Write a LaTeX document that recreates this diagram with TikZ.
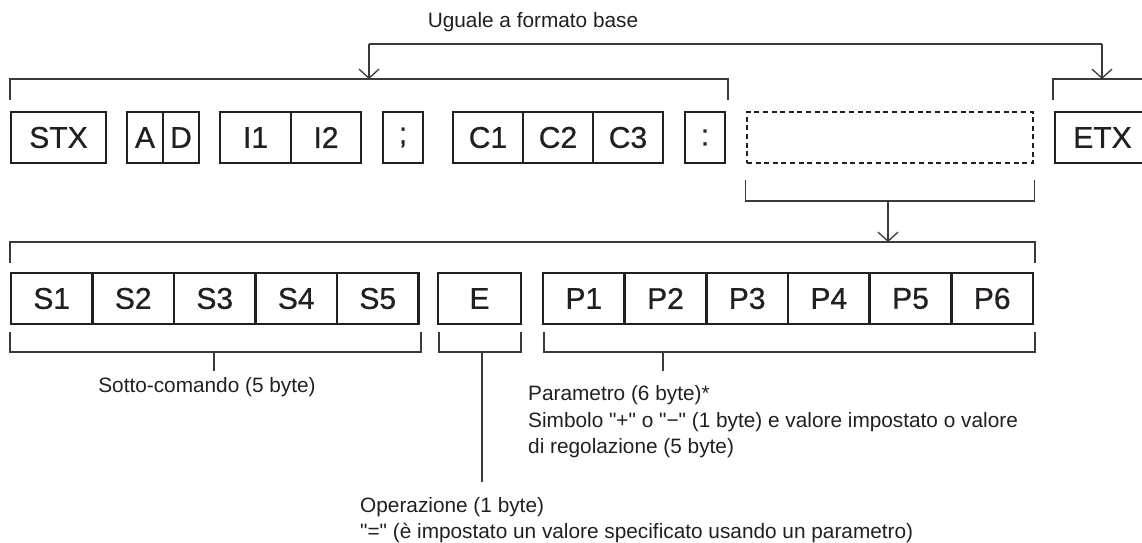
\documentclass[tikz,border=0pt]{standalone}
\usepackage{fontspec}
\setmainfont{Liberation Sans}[Ligatures=TeXOff]
\newfontfamily\cellfont{Liberation Sans}[FakeBold=0.7]
\usepackage{xcolor}
\usetikzlibrary{arrows.meta,positioning}
\definecolor{ink}{HTML}{231F20}
\definecolor{wire}{HTML}{3A3A3A}

\begin{document}
\begin{tikzpicture}[x=1pt, y=-1pt,
    cell/.style={rectangle, draw=ink, line width=2.6pt, minimum height=51pt, inner sep=0pt, text=ink, font=\cellfont\fontsize{30}{30}\selectfont},
    slot/.style={rectangle, draw=ink, line width=2.4pt, dash pattern=on 5pt off 3.6pt, minimum height=51pt, inner sep=0pt},
    brk/.style={draw=wire, line width=1.3pt},
    arr/.style={brk, -{Straight Barb[length=9pt, width=20pt, line width=1.3pt]}},
    note/.style={inner sep=0pt, align=left, text=ink, font=\fontsize{20.8}{26.5}\selectfont}]
    \clip (0,0) rectangle (1142,542);
    % Command frame
    \node[cell, minimum width=95pt] (stx) at (58.5,137.5) {STX};
    \node[cell, minimum width=36pt] (a) at (145,137.5) {A};
    \node[cell, minimum width=36pt] (d) at (181,137.5) {D};
    \node[cell, minimum width=71pt] (i1) at (255.5,137.5) {I1};
    \node[cell, minimum width=70pt] (i2) at (326,137.5) {I2};
    \node[cell, minimum width=40pt] (semi) at (403,137.5) {;};
    \foreach \k in {1,2,3}
        \node[cell, minimum width=70pt] (c\k) at ({418+70*\k},137.5) {C\k};
    \node[cell, minimum width=40pt] (colon) at (705,137.5) {:};
    \node[slot, minimum width=286pt] (data) at (890,137.5) {};
    \node[cell, minimum width=95pt] (etx) at (1102.5,137.5) {ETX};

    % Data field
    \foreach \k in {1,...,5}
        \node[cell, minimum width=81.5pt] (s\k) at ({81.5*\k-29.75},298.5) {S\k};
    \node[cell, minimum width=83pt] (e) at (479.5,298.5) {E};
    \foreach \k in {1,...,6}
        \node[cell, minimum width=81.67pt] (p\k) at ({81.67*\k+502.17},298.5) {P\k};

    % Same as basic format
    \node[note] (title) at (533,22) {Uguale a formato base};
    \coordinate (basemid) at (369,79);
    \coordinate (etxmid) at (1102,79);
    \draw[brk] (basemid |- 0,44) -- (etxmid |- 0,44);
    \draw[arr] (basemid |- 0,44) -- (basemid);
    \draw[arr] (etxmid |- 0,44) -- (etxmid);
    \draw[brk] (10,100) |- (728,79) -- (728,100);
    \draw[brk] (1053,100) |- (1150,79);

    % Data expanded
    \coordinate (datamid) at (888,201);
    \draw[brk] (data.west |- 0,180) |- (data.east |- 0,201) -- (data.east |- 0,180);
    \draw[arr] (datamid) -- (datamid |- 0,242);
    \draw[brk] (10,263) |- (1035,242) -- (1035,263);

    % Labels under the fields
    \draw[brk] (10,332) |- (421,352) -- (421,332);
    \draw[brk] (439,332) |- (521,352) -- (521,332);
    \draw[brk] (544,332) |- (1035,352) -- (1035,332);
    \node[note] (sub) at (207,387) {Sotto-comando (5 byte)};
    \node[note, anchor=west] (param) at (528,422) {Parametro (6 byte)*\\Simbolo "+" o "−" (1 byte) e valore impostato o valore\\di regolazione (5 byte)};
    \node[note, anchor=north west] (oper) at (360,497) {Operazione (1 byte)\\"=" (è impostato un valore specificato usando un parametro)};
    \draw[brk] (214,352) -- (214,371);
    \draw[brk] (663,352) -- (663,371);
    \draw[brk] (482,352) -- (482,482);
\end{tikzpicture}
\end{document}
